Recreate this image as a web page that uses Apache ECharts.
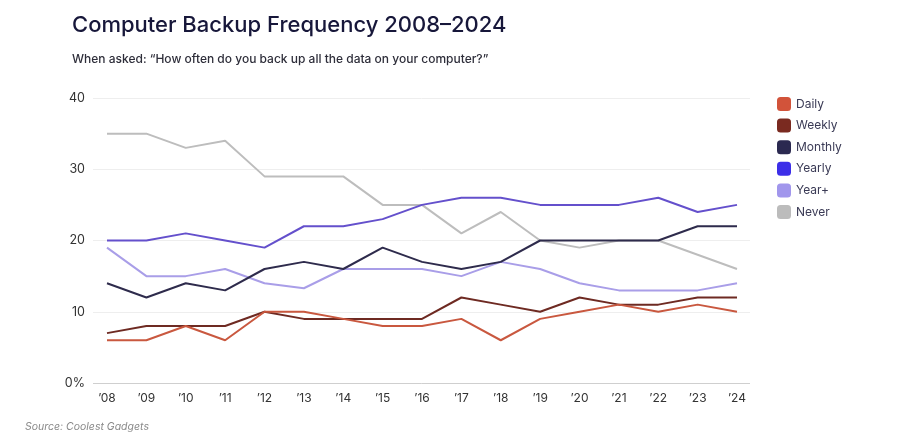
<!DOCTYPE html>
<html><head><meta charset="utf-8">
<script src="https://cdn.jsdelivr.net/npm/echarts@6/dist/echarts.min.js"></script>
<style>html,body{margin:0;padding:0;background:#fff}#c{width:900px;height:435px}</style>
</head><body><div id="c"></div>
<script>
const years = [2008,2009,2010,2011,2012,2013,2014,2015,2016,2017,2018,2019,2020,2021,2022,2023,2024];
const seriesNames = ['Daily','Weekly','Monthly','Yearly','Year+','Never'];
const daily   = [6,6,8,6,10,10,9,8,8,9,6,9,10,11,10,11,10];
const weekly  = [7,8,8,8,10,9,9,9,9,12,11,10,12,11,11,12,12];
const monthly = [14,12,14,13,16,17,16,19,17,16,17,20,20,20,20,22,22];
const yearly  = [20,20,21,20,19,22,22,23,25,26,26,25,25,25,26,24,25];
const yearPlus= [19,15,15,16,14,13.3,16,16,16,15,17,16,14,13,13,13,14];
const never   = [35,35,33,34,29,29,29,25,25,21,24,20,19,20,20,18,16];
const lineColors = ['#c9583f','#6e2a22','#2e2b4c','#6450cc','#a99ee8','#bdbdbd'];
const legendColors = ['#d2533a','#7a2a20','#2b2950','#3c2ee8','#a196ec','#bcbcbc'];
const values = [daily,weekly,monthly,yearly,yearPlus,never];
const yTicks = [0,10,20,30,40];

const chart = echarts.init(document.getElementById('c'));
const font = 'Inter, "Noto Sans", sans-serif';
chart.setOption({
  animation:false,
  textStyle:{fontFamily:font},
  title:[
    {text:'Computer Backup Frequency 2008–2024', left:67, top:9,
     textStyle:{fontSize:22, fontWeight:500, color:'#17173a', fontFamily:font}},
    {text:'When asked: “How often do you back up all the data on your computer?”', left:67, top:48,
     textStyle:{fontSize:12, fontWeight:500, color:'#2e2e3a', fontFamily:font}},
    {text:'Source: Coolest Gadgets', left:20, top:416,
     textStyle:{fontSize:10.5, fontWeight:400, fontStyle:'italic', color:'#8a8a8a', fontFamily:font}}
  ],
  legend:{
    orient:'vertical', left:772, top:92, itemWidth:14, itemHeight:14, itemGap:7.6,
    icon:'roundRect',
    textStyle:{fontSize:12, color:'#3a3a55', fontFamily:font},
    data: seriesNames.map((n,i)=>({name:n, itemStyle:{color:legendColors[i]}}))
  },
  grid:{left:93, right:150, top:98, bottom:52},
  xAxis:{
    type:'value', min:2008-14/39.375, max:2024+13/39.375,
    axisLine:{show:false}, axisTick:{show:false}, splitLine:{show:false},
    axisLabel:{customValues:years, formatter:v=>'’'+String(Math.round(v)).slice(2),
      fontSize:12, color:'#333', margin:9, fontFamily:font}
  },
  yAxis:{
    type:'value', min:0, max:40, interval:10,
    axisLine:{show:false}, axisTick:{show:false},
    axisLabel:{customValues:yTicks, formatter:v=>v===0?'0%':String(v), fontSize:12.5, color:'#333', margin:8, fontFamily:font},
    splitLine:{lineStyle:{color:'#eeeeee', width:1}}
  },
  series: seriesNames.map((n,i)=>({
    name:n, type:'line', symbol:'none', z: 10-i,
    lineStyle:{width:2, color:lineColors[i]}, itemStyle:{color:lineColors[i]},
    data: years.map((y,j)=>[y, values[i][j]])
  })).concat([{
    type:'line', silent:true, symbol:'none', data:[], 
    markLine:{silent:true, symbol:'none', label:{show:false},
      lineStyle:{color:'#cfcfcf', width:1, type:'solid'}, data:[{yAxis:0}]}
  }])
});
</script></body></html>
